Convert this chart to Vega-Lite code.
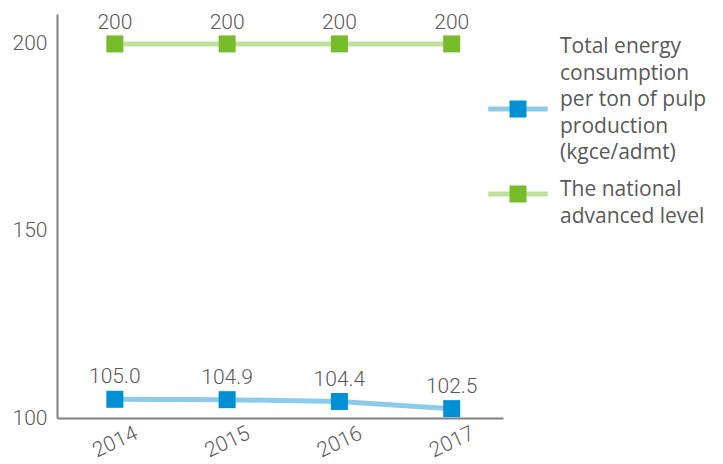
{
  "$schema": "https://vega.github.io/schema/vega-lite/v6.json",
  "width": 446,
  "height": 404,
  "autosize": "none",
  "padding": {"left": 57, "top": 14, "right": 220, "bottom": 46},
  "background": "white",
  "config": {"view": {"stroke": null}, "font": "Roboto"},
  "data": {
    "values": [
      {"year": "2014", "value": 105.0, "series": "Total energy consumption per ton of pulp production (kgce/admt)", "marker": "Total energy consumption per ton of pulp production (kgce/admt)"},
      {"year": "2015", "value": 104.9, "series": "Total energy consumption per ton of pulp production (kgce/admt)", "marker": "Total energy consumption per ton of pulp production (kgce/admt)"},
      {"year": "2016", "value": 104.4, "series": "Total energy consumption per ton of pulp production (kgce/admt)", "marker": "Total energy consumption per ton of pulp production (kgce/admt)"},
      {"year": "2017", "value": 102.5, "series": "Total energy consumption per ton of pulp production (kgce/admt)", "marker": "Total energy consumption per ton of pulp production (kgce/admt)"},
      {"year": "2014", "value": 200, "series": "The national advanced level", "marker": "The national advanced level"},
      {"year": "2015", "value": 200, "series": "The national advanced level", "marker": "The national advanced level"},
      {"year": "2016", "value": 200, "series": "The national advanced level", "marker": "The national advanced level"},
      {"year": "2017", "value": 200, "series": "The national advanced level", "marker": "The national advanced level"}
    ]
  },
  "encoding": {
    "x": {
      "field": "year", "type": "ordinal",
      "scale": {"type": "point", "padding": 0.486, "align": 0.53},
      "axis": {"title": null, "labelAngle": -25, "labelAlign": "center", "labelBaseline": "middle", "labelPadding": 24, "labelFontSize": 21, "labelFontWeight": 300, "labelColor": "#595959", "domainColor": "#808080", "domainWidth": 2, "ticks": false, "grid": false}
    },
    "y": {
      "field": "value", "type": "quantitative",
      "scale": {"domain": [100, 208], "nice": false, "zero": false},
      "axis": {"title": null, "values": [100, 150, 200], "labelFontSize": 21, "labelFontWeight": 300, "labelColor": "#595959", "labelPadding": 10, "domainColor": "#808080", "domainWidth": 2, "ticks": false, "grid": false}
    }
  },
  "layer": [
    {
      "mark": {"type": "line", "strokeWidth": 5},
      "encoding": {
        "stroke": {
          "field": "series", "type": "nominal",
          "scale": {"domain": ["Total energy consumption per ton of pulp production (kgce/admt)", "The national advanced level"], "range": ["#8ccbea", "#bfe19b"]},
          "legend": {
            "orient": "none", "legendX": 450, "legendY": 84, "title": null, "padding": 0,
            "symbolType": "M-3.5,0H3.5M-1,-1H-1", "symbolSize": 289, "symbolStrokeWidth": 5, "symbolFillColor": "transparent",
            "labelFont": "Open Sans", "labelFontSize": 21, "labelColor": "#595959", "labelOffset": 31, "labelLimit": 300, "rowPadding": 12,
            "labelExpr": "datum.label == 'The national advanced level' ? ['The national', 'advanced level'] : ['Total energy', 'consumption', 'per ton of pulp', 'production', '(kgce/admt)']",
            "encode": {"labels": {"update": {"lineHeight": {"value": 26.5}, "dy": {"signal": "datum.label == 'The national advanced level' ? -4 : -62"}}}}
          }
        }
      }
    },
    {
      "mark": {"type": "point", "shape": "square", "filled": true, "size": 289, "opacity": 1},
      "encoding": {
        "fill": {
          "field": "marker", "type": "nominal",
          "sort": ["Total energy consumption per ton of pulp production (kgce/admt)", "The national advanced level"],
          "scale": {"range": ["#0090d4", "#77bc2a"]},
          "legend": {
            "orient": "none", "legendX": 450, "legendY": 84, "title": null, "padding": 0,
            "symbolType": "M-3.5,0H3.5M-1,-1H1V1H-1Z", "symbolSize": 289, "symbolStrokeWidth": 5, "symbolStrokeColor": "transparent", "symbolOpacity": 1,
            "labelFont": "Open Sans", "labelFontSize": 21, "labelColor": "#595959", "labelOpacity": 0, "labelOffset": 31, "labelLimit": 300, "rowPadding": 12,
            "labelExpr": "datum.label == 'The national advanced level' ? ['The national', 'advanced level'] : ['Total energy', 'consumption', 'per ton of pulp', 'production', '(kgce/admt)']",
            "encode": {"labels": {"update": {"lineHeight": {"value": 26.5}, "dy": {"signal": "datum.label == 'The national advanced level' ? -4 : -62"}}}}
          }
        }
      }
    },
    {
      "transform": [{"filter": "datum.value < 150"}],
      "mark": {"type": "text", "dy": -22, "fontSize": 21, "fontWeight": 300, "color": "#595959"},
      "encoding": {"text": {"field": "value", "type": "quantitative", "format": ".1f"}}
    },
    {
      "transform": [{"filter": "datum.value >= 150"}],
      "mark": {"type": "text", "dy": -21, "fontSize": 21, "fontWeight": 300, "color": "#595959"},
      "encoding": {"text": {"field": "value", "type": "quantitative", "format": "d"}}
    }
  ]
}
